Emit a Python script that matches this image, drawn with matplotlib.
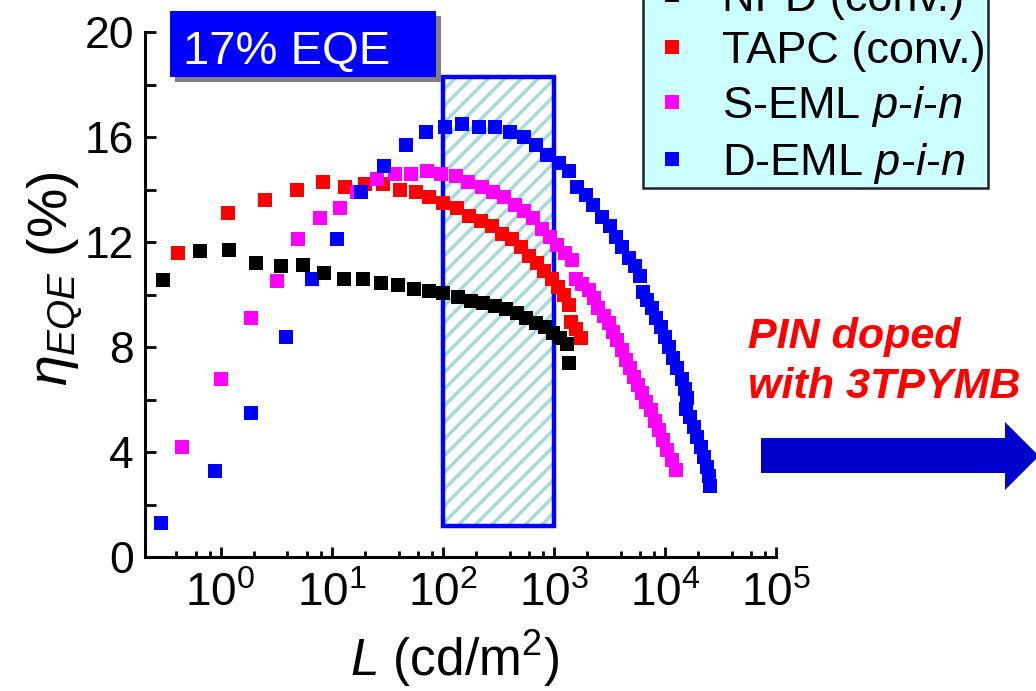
import numpy as np
import matplotlib
matplotlib.use("Agg")
import matplotlib.pyplot as plt
from matplotlib.patches import Rectangle, Polygon
from matplotlib.ticker import LogLocator, MultipleLocator, NullFormatter
from matplotlib.lines import Line2D

plt.rcParams['font.family'] = ['Liberation Sans', 'DejaVu Sans']
plt.rcParams['mathtext.fontset'] = 'custom'
plt.rcParams['mathtext.rm'] = 'Liberation Sans'
plt.rcParams['mathtext.it'] = 'Liberation Sans:italic'
plt.rcParams['mathtext.bf'] = 'Liberation Sans:bold'
plt.rcParams['hatch.linewidth'] = 2.5
plt.rcParams['hatch.color'] = '#a6d9d9'

# ---- data ----
npd_L = [0.306, 0.647, 1.2, 2.07, 3.47, 5.48, 8.47, 12.8, 19.0, 27.6, 39.3, 54.8, 76,
         100, 136, 179, 229, 293, 370, 465, 560, 690, 830, 980, 1130, 1310, 1365]
npd_eqe = [10.55, 11.66, 11.7, 11.2, 11.09, 11.12, 10.82, 10.6, 10.6, 10.44, 10.36, 10.2, 10.13,
           10.05, 9.9, 9.75, 9.67, 9.56, 9.45, 9.3, 9.1, 8.9, 8.76, 8.53, 8.34, 8.1, 7.4]

tapc_L = [0.41, 1.16, 2.5, 4.9, 8.3, 13.1, 19.8, 28.8, 40.9, 57.1, 76, 100, 134, 171, 220,
          276, 340, 420, 504, 594, 700, 813, 960, 1090, 1230, 1365, 1420, 1590, 1750]
tapc_eqe = [11.58, 13.1, 13.6, 14.0, 14.3, 14.1, 14.2, 14.2, 14.0, 13.9, 13.7, 13.5, 13.3, 13.0, 12.8,
            12.6, 12.3, 12.1, 11.8, 11.47, 11.2, 10.9, 10.6, 10.3, 10.0, 9.6, 8.95, 8.7, 8.34]

seml_L = [0.45, 1.02, 1.9, 3.2, 5.0, 7.8, 11.8, 16.8, 25.4, 37, 51.6, 71.8, 97, 131, 168,
          224, 282, 355, 447, 537, 647, 780, 920, 1070, 1260, 1450, 1590, 1800, 2070, 2290,
          2520, 2830, 3130, 3400, 3700, 4100, 4450, 4840, 5260, 5710, 6200, 6760, 7440, 8100,
          8830, 9560, 10400, 11500, 12600]
seml_eqe = [4.2, 6.78, 9.1, 10.5, 12.1, 12.9, 13.3, 13.9, 14.4, 14.6, 14.6, 14.7, 14.6, 14.5, 14.3,
            14.1, 13.9, 13.7, 13.4, 13.2, 12.9, 12.5, 12.2, 11.9, 11.6, 11.3, 10.6, 10.4, 10.17, 9.87,
            9.5, 9.2, 8.9, 8.57, 8.27, 7.9, 7.5, 7.2, 6.86, 6.55, 6.25, 5.9, 5.6, 5.2,
            4.84, 4.46, 4.08, 3.7, 3.3]

deml_L = [0.29, 0.90, 1.9, 3.9, 6.7, 11.1, 18.3, 29.4, 46.4, 70, 104, 148, 210, 293, 400,
          537, 690, 870, 1110, 1360, 1620, 1950, 2270, 2700, 3200, 3640, 4100, 4730, 5370, 5960,
          6330, 6900, 7600, 8300, 9200, 10000, 10900, 11800, 12900, 14200, 15200, 15900, 15500,
          16800, 18200, 19400, 21000, 22400, 23900, 25000, 25500]
deml_eqe = [1.3, 3.28, 5.5, 8.38, 10.6, 12.1, 13.9, 14.9, 15.7, 16.2, 16.4, 16.5, 16.4, 16.4, 16.2,
            16.0, 15.7, 15.3, 15.0, 14.7, 14.1, 13.8, 13.4, 12.95, 12.6, 12.2, 11.8, 11.4, 11.1, 10.7,
            10.1, 9.8, 9.5, 9.1, 8.76, 8.4, 8.0, 7.6, 7.2, 6.8, 6.4, 6.06, 5.65,
            5.33, 4.95, 4.57, 4.2, 3.8, 3.43, 3.1, 2.7]

labels = ["NPD (conv.)", "TAPC (conv.)",
          r"S-EML $\mathit{p}$-$\mathit{i}$-$\mathit{n}$",
          r"D-EML $\mathit{p}$-$\mathit{i}$-$\mathit{n}$"]
colors = ["black", "#ff0000", "#ff00ff", "#0000ff"]

# window highlighted on the plot
win_L = (100, 1000)
win_eqe = (1.2, 18.3)

W, H = 1036, 691
def fx(px):
    return px / W
def fy(py):
    return 1 - py / H

fig = plt.figure(figsize=(W / 100, H / 100), dpi=100)
ax = fig.add_axes([fx(145), fy(557), fx(776) - fx(145), fy(32) - fy(557)])

# hatched window
ax.add_patch(Rectangle((win_L[0], win_eqe[0]), win_L[1] - win_L[0], win_eqe[1] - win_eqe[0],
                       facecolor="white", edgecolor="#a6d9d9", hatch="//", lw=0, zorder=1))
ax.add_patch(Rectangle((win_L[0], win_eqe[0]), win_L[1] - win_L[0], win_eqe[1] - win_eqe[0],
                       facecolor="none", edgecolor="#0000ff", lw=3.2, zorder=2))

ms = 9.5
ax.plot(tapc_L, tapc_eqe, "s", color=colors[1], ms=ms, mew=0, zorder=3)
ax.plot(seml_L, seml_eqe, "s", color=colors[2], ms=ms, mew=0, zorder=4)
ax.plot(deml_L, deml_eqe, "s", color=colors[3], ms=ms, mew=0, zorder=5)
ax.plot(npd_L, npd_eqe, "s", color=colors[0], ms=ms, mew=0, zorder=6)

ax.set_xscale("log")
ax.set_xlim(0.209, 1e5)
ax.set_ylim(0, 20)
ax.xaxis.set_major_locator(LogLocator(base=10, numticks=10))
ax.xaxis.set_minor_locator(LogLocator(base=10, subs=[2, 4, 6, 8], numticks=20))
ax.xaxis.set_minor_formatter(NullFormatter())
ax.yaxis.set_major_locator(MultipleLocator(4))
ax.yaxis.set_minor_locator(MultipleLocator(2))

for s in ["top", "right"]:
    ax.spines[s].set_visible(False)
for s in ["left", "bottom"]:
    ax.spines[s].set_linewidth(2.2)

ax.tick_params(axis="x", which="major", direction="in", length=7, width=2, labelsize=33, pad=11)
ax.tick_params(axis="x", which="minor", direction="in", length=4, width=2)
ax.tick_params(axis="y", which="both", direction="in", length=8, width=2, labelsize=32, pad=8)

ax.set_xlabel(r"$\mathit{L}$ (cd/m$^2$)", fontsize=37, labelpad=2)
ax.xaxis.set_label_coords(0.49, -0.135)
ax.set_ylabel(r"$\eta_{EQE}$ (%)", fontsize=40)
ax.yaxis.set_label_coords(-0.095, 0.53)

# legend (partly cut by the top of the figure)
handles = [Line2D([], [], ls="none", marker="s", color=c, ms=9.5, mew=0) for c in colors]
leg = fig.legend(handles, labels, loc="lower left", bbox_to_anchor=(fx(643), fy(188)),
                 fontsize=32.5, frameon=True, fancybox=False, handlelength=1.2,
                 handletextpad=0.5, labelspacing=0.26, borderpad=0.05, borderaxespad=0)
leg.get_frame().set_facecolor("#ccffff")
leg.get_frame().set_edgecolor("#222222")
leg.get_frame().set_linewidth(1.8)
leg.get_frame().set_alpha(1)

# "17% EQE" box with shadow
fig.add_artist(Rectangle((fx(175), fy(82)), fx(441) - fx(175), fy(16) - fy(82),
                         transform=fig.transFigure, facecolor="#808080", edgecolor="none"))
fig.add_artist(Rectangle((fx(170), fy(77)), fx(436) - fx(170), fy(11) - fy(77),
                         transform=fig.transFigure, facecolor="#0000ff", edgecolor="none"))
fig.text(fx(183), fy(52), "17% EQE", color="white", fontsize=34, ha="left", va="center")

# annotation and arrow on the right
fig.text(fx(748), fy(362), "PIN doped\nwith 3TPYMB", color="#ff0000", fontsize=31,
         fontweight="bold", fontstyle="italic", ha="left", va="center", linespacing=1.32)
arrow_px = [(761, 438), (1005, 438), (1005, 422), (1039, 456), (1005, 490), (1005, 473), (761, 473)]
fig.add_artist(Polygon([(fx(x), fy(y)) for x, y in arrow_px], closed=True,
                       transform=fig.transFigure, facecolor="#0000cc", edgecolor="none"))

fig.savefig("out.png", dpi=100)
